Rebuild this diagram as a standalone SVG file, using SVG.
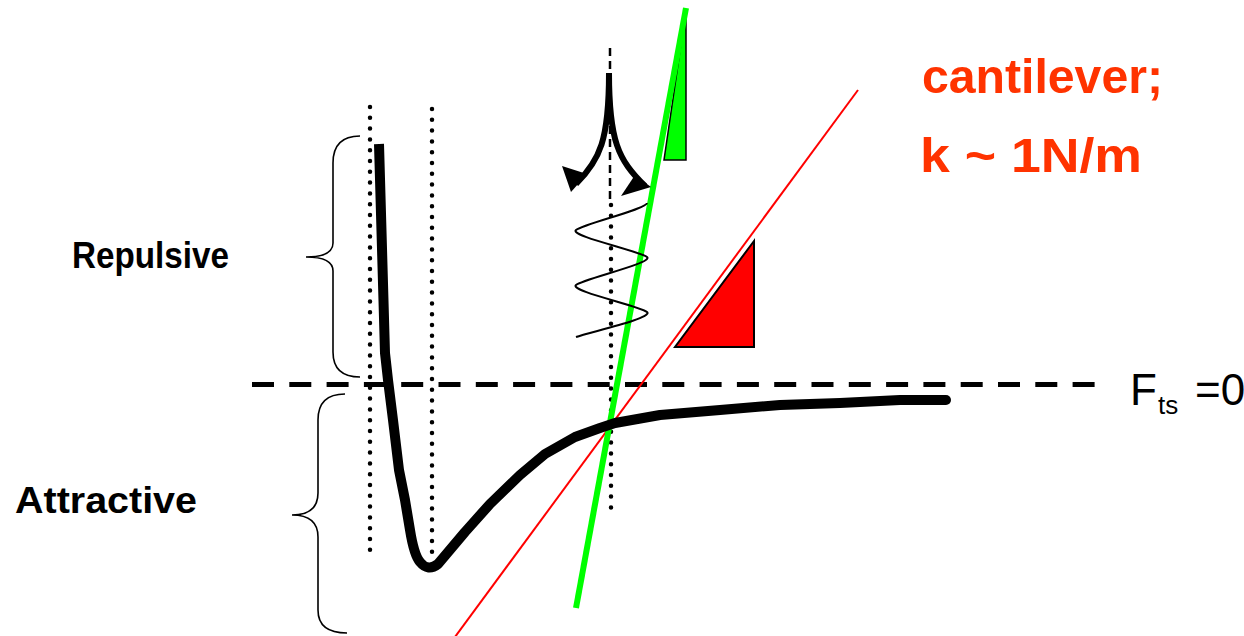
<svg xmlns="http://www.w3.org/2000/svg" width="1244" height="636" viewBox="0 0 1244 636">
<style>
.lbl{font-family:"Liberation Sans",Arial,sans-serif;font-weight:bold;fill:#000}
.red{font-family:"Liberation Sans",Arial,sans-serif;font-weight:bold;fill:#FF3300}
.ft{font-family:"Liberation Sans",Arial,sans-serif;fill:#000}
.dots{fill:none;stroke:#000;stroke-width:4.5;stroke-linecap:round;stroke-dasharray:0 10.8}
.brace{fill:none;stroke:#000;stroke-width:1.6}
</style>
<rect width="1244" height="636" fill="#fff"/>
<g id="braces">
<path class="brace" d="M360,136 Q333,136 333,163 L333,243 Q333,257 306,257 Q333,257 333,271 L333,352 Q333,377 360,377"/>
<path class="brace" d="M345,394 Q318,394 318,420 L318,493 Q318,515 292,515 Q318,515 318,537 L318,610 Q318,633 347,633"/>
</g>
<g id="labels">
<text class="lbl" x="72" y="268" font-size="36" textLength="157" lengthAdjust="spacingAndGlyphs">Repulsive</text>
<text class="lbl" x="15" y="513" font-size="36" textLength="182" lengthAdjust="spacingAndGlyphs">Attractive</text>
<text class="red" x="922" y="93" font-size="48" textLength="241" lengthAdjust="spacingAndGlyphs">cantilever;</text>
<text class="red" x="920" y="172" font-size="48" textLength="222" lengthAdjust="spacingAndGlyphs">k ~ 1N/m</text>
<text class="ft" x="1130" y="405" font-size="44">F</text>
<text class="ft" x="1158" y="414" font-size="26">ts</text>
<text class="ft" x="1195" y="405" font-size="44">=0</text>
</g>
<g id="guides">
<line x1="252" y1="384.5" x2="1096" y2="384.5" stroke="#000" stroke-width="5" stroke-dasharray="22 15.3"/>
<path class="dots" d="M370,107 L370,557"/>
<path class="dots" d="M432,109 L432,557"/>
<path class="dots" d="M611,205 L611,512"/>
<line x1="610" y1="48" x2="610" y2="200" stroke="#000" stroke-width="2.5" stroke-dasharray="8 5"/>
</g>
<g id="tangents">
<line x1="452" y1="641" x2="858" y2="90" stroke="#FF0000" stroke-width="2"/>
<polygon points="754,241 675,347 754,347" fill="#FF0000" stroke="#000" stroke-width="2"/>
<polygon points="686,10 664,160 686,160" fill="#00FF00" stroke="#000" stroke-width="1.5"/>
<line x1="576" y1="608" x2="686" y2="8" stroke="#00FF00" stroke-width="6"/>
</g>
<g id="force-curve">
<path d="M379,144 L385,353 L388,380 L393,420 L399,470 L405,500 L410,530 Q414,555 420,562 Q428,572 438,564 L465,532 L490,504 L520,475 L545,454 L575,437 L600,428 L615,423 L660,415 L720,410 L780,405 L840,403 L900,400 L946,400" fill="none" stroke="#000" stroke-width="10" stroke-linejoin="round"/>
<circle cx="946" cy="400" r="5" fill="#000"/>
</g>
<g id="oscillation">
<path d="M647,203 C647,209 583,224 576,230 C569,236 640,251 647,257 C654,263 583,279 576,285 C569,291 640,306 647,312 C654,318 590,332 576,337" fill="none" stroke="#000" stroke-width="2"/>
<path d="M609,73 C609,140 600,160 576,184" fill="none" stroke="#000" stroke-width="6"/>
<path d="M609,73 C609,140 618,160 645,186" fill="none" stroke="#000" stroke-width="6"/>
<polygon points="562,166 587,174 571,192" fill="#000"/>
<polygon points="651,187 621,196 635,175" fill="#000"/>
</g>
</svg>
